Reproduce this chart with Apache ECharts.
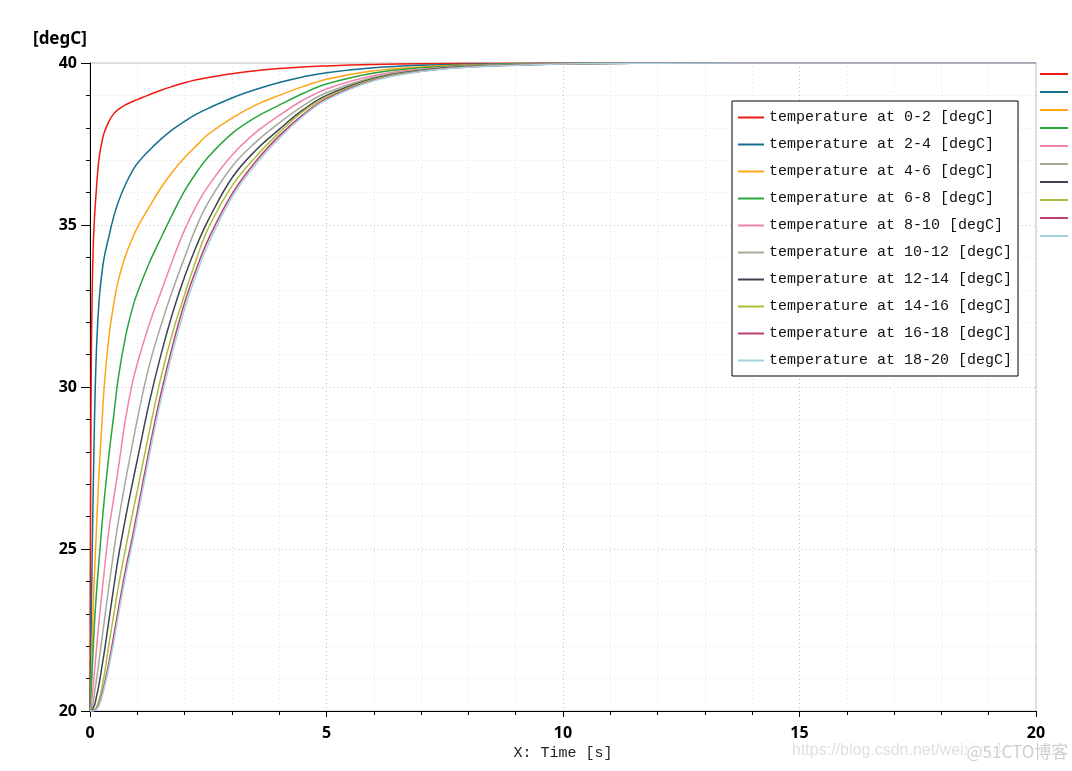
<!DOCTYPE html>
<html>
<head>
<meta charset="utf-8">
<script src="https://cdn.jsdelivr.net/npm/echarts@6/dist/echarts.min.js"></script>
<style>
html,body{margin:0;padding:0;background:#fff;}
#chart{width:1072px;height:771px;}
</style>
</head>
<body>
<div id="chart"></div>
<script>
const times = [0, 0.01, 0.02, 0.03, 0.05, 0.07, 0.1, 0.13, 0.16, 0.2, 0.25, 0.3, 0.4, 0.5, 0.6, 0.75, 0.9, 1.0, 1.25, 1.5, 1.75, 2.0, 2.25, 2.5, 3.0, 3.5, 4.0, 4.5, 5.0, 6.0, 7.0, 8.0, 10.0, 12.0, 15.0, 20.0];

const seriesNames = [
  'temperature at 0-2 [degC]', 'temperature at 2-4 [degC]', 'temperature at 4-6 [degC]',
  'temperature at 6-8 [degC]', 'temperature at 8-10 [degC]', 'temperature at 10-12 [degC]',
  'temperature at 12-14 [degC]', 'temperature at 14-16 [degC]', 'temperature at 16-18 [degC]',
  'temperature at 18-20 [degC]'
];

const temp0_2 = [20, 25, 29, 31.2, 33.2, 34.4, 35.35, 36.0, 36.6, 37.15, 37.55, 37.85, 38.2, 38.43, 38.57, 38.71, 38.81, 38.87, 39.02, 39.16, 39.28, 39.39, 39.48, 39.55, 39.67, 39.76, 39.83, 39.88, 39.91, 39.955, 39.978, 39.99, 39.998, 40, 40, 40];
const temp2_4 = [20, 20.8, 22, 23.2, 25.2, 27.0, 29.3, 30.9, 31.9, 32.8, 33.5, 34.0, 34.65, 35.25, 35.72, 36.25, 36.68, 36.9, 37.3, 37.65, 37.95, 38.2, 38.42, 38.6, 38.92, 39.18, 39.4, 39.57, 39.7, 39.85, 39.93, 39.965, 39.992, 40, 40, 40];
const temp4_6 = [20, 20.1, 20.5, 21.0, 22.2, 23.3, 24.4, 25.4, 26.4, 27.6, 28.8, 30.0, 31.55, 32.55, 33.3, 34.05, 34.6, 34.92, 35.55, 36.15, 36.65, 37.08, 37.45, 37.8, 38.3, 38.7, 39.0, 39.27, 39.5, 39.76, 39.88, 39.94, 39.986, 39.997, 40, 40];
const temp6_8 = [20, 20.1, 20.4, 20.8, 21.4, 22.0, 22.85, 23.5, 24.1, 24.8, 25.7, 26.5, 27.9, 29.1, 30.3, 31.55, 32.45, 32.9, 33.82, 34.6, 35.35, 36.05, 36.62, 37.1, 37.82, 38.32, 38.7, 39.06, 39.35, 39.69, 39.85, 39.926, 39.982, 39.996, 40, 40];
const temp8_10 = [20, 20.03, 20.1, 20.25, 20.5, 20.8, 21.3, 21.8, 22.3, 22.9, 23.6, 24.3, 25.6, 26.55, 27.5, 29.0, 30.15, 30.72, 31.92, 32.93, 33.93, 34.85, 35.6, 36.2, 37.15, 37.85, 38.38, 38.85, 39.2, 39.615, 39.81, 39.91, 39.978, 39.995, 40, 40];
const temp10_12 = [20, 20, 20.02, 20.05, 20.15, 20.3, 20.6, 20.9, 21.2, 21.65, 22.2, 22.75, 23.85, 24.9, 25.85, 27.1, 28.25, 29.0, 30.65, 31.9, 33.0, 34.0, 34.95, 35.7, 36.8, 37.55, 38.15, 38.68, 39.08, 39.56, 39.79, 39.9, 39.975, 39.994, 40, 40];
const temp12_14 = [20, 20, 20, 20.01, 20.04, 20.1, 20.2, 20.4, 20.6, 20.9, 21.35, 21.8, 22.8, 23.8, 24.75, 25.95, 27.05, 27.75, 29.5, 31.0, 32.3, 33.4, 34.35, 35.15, 36.45, 37.3, 37.95, 38.55, 39.0, 39.52, 39.77, 39.89, 39.973, 39.993, 40, 40];
const temp14_16 = [20, 20, 20, 20, 20.01, 20.02, 20.05, 20.1, 20.2, 20.4, 20.7, 21.1, 22.05, 22.95, 23.85, 25.0, 26.1, 26.8, 28.6, 30.3, 31.7, 32.85, 33.95, 34.9, 36.2, 37.1, 37.85, 38.5, 38.95, 39.5, 39.755, 39.88, 39.97, 39.993, 40, 40];
const temp16_18 = [20, 20, 20, 20, 20, 20.01, 20.03, 20.06, 20.12, 20.25, 20.5, 20.8, 21.5, 22.3, 23.15, 24.35, 25.4, 26.15, 28.05, 29.8, 31.3, 32.6, 33.65, 34.55, 35.95, 36.95, 37.75, 38.4, 38.9, 39.47, 39.744, 39.875, 39.97, 39.993, 40, 40];
const temp18_20 = [20, 20, 20, 20, 20, 20, 20.02, 20.04, 20.09, 20.2, 20.42, 20.7, 21.35, 22.1, 22.95, 24.15, 25.2, 25.95, 27.85, 29.6, 31.1, 32.4, 33.48, 34.4, 35.85, 36.86, 37.68, 38.35, 38.86, 39.45, 39.735, 39.87, 39.969, 39.993, 40, 40];

const xTicks = [0, 5, 10, 15, 20];
const yTicks = [20, 25, 30, 35, 40];

const allValues = [temp0_2, temp2_4, temp4_6, temp6_8, temp8_10, temp10_12, temp12_14, temp14_16, temp16_18, temp18_20];
const colors = ['#ee1a12', '#146e8e', '#ffa414', '#28a43c', '#f283a8', '#a6a898', '#3d4350', '#a6c03a', '#bb3f72', '#a3d2e0'];

const chart = echarts.init(document.getElementById('chart'), null, {renderer: 'canvas'});

const series = seriesNames.map((name, i) => ({
  name: name,
  type: 'line',
  data: times.map((t, k) => [t, allValues[i][k]]),
  showSymbol: false,
  symbol: 'none',
  smooth: 0.4,
  lineStyle: {width: 1.5, color: colors[i], join: 'round'},
  itemStyle: {color: colors[i]},
  clip: true,
  z: 3
}));

const axisFont = {fontFamily: '"Noto Sans", sans-serif', fontWeight: 'bold', fontSize: 16, color: '#000'};

chart.setOption({
  animation: false,
  backgroundColor: '#fff',
  grid: {left: 90, top: 63, right: 36, bottom: 60, show: true, borderColor: '#c4c4c4', borderWidth: 1, containLabel: false},
  xAxis: {
    type: 'value', min: xTicks[0], max: xTicks[xTicks.length - 1], interval: 5,
    name: 'X: Time [s]', nameLocation: 'middle', nameGap: 33,
    nameTextStyle: {fontFamily: '"Liberation Mono", monospace', fontSize: 15, color: '#222'},
    axisLine: {show: true, onZero: false, lineStyle: {color: '#000', width: 1}},
    axisTick: {show: true, inside: false, length: 6, lineStyle: {color: '#000'}},
    minorTick: {show: true, splitNumber: 5, length: 4, lineStyle: {color: '#000'}},
    axisLabel: Object.assign({margin: 14}, axisFont),
    splitLine: {show: true, lineStyle: {type: [1, 3], color: '#c2c2c2'}},
    minorSplitLine: {show: true, lineStyle: {type: [1, 3], color: '#e2e2e2'}}
  },
  yAxis: {
    type: 'value', min: yTicks[0], max: yTicks[yTicks.length - 1], interval: 5,
    axisLine: {show: true, onZero: false, lineStyle: {color: '#000', width: 1}},
    axisTick: {show: true, inside: false, length: 9, lineStyle: {color: '#000'}},
    minorTick: {show: true, splitNumber: 5, length: 4, lineStyle: {color: '#000'}},
    axisLabel: Object.assign({margin: 13}, axisFont),
    splitLine: {show: true, lineStyle: {type: [1, 3], color: '#c2c2c2'}},
    minorSplitLine: {show: true, lineStyle: {type: [1, 3], color: '#e2e2e2'}}
  },
  legend: [
    {
      orient: 'vertical', left: 732, top: 101,
      backgroundColor: '#fff', borderColor: '#000', borderWidth: 1,
      padding: [9, 6, 8, 6], itemGap: 12,
      icon: 'rect', itemWidth: 26, itemHeight: 2,
      selectedMode: false,
      textStyle: {fontFamily: '"Liberation Mono", monospace', fontSize: 15, lineHeight: 15, color: '#111', padding: [0, 0, 0, 0]},
      data: seriesNames, z: 10
    },
    {
      orient: 'vertical', left: 1040, top: 69,
      padding: 0, itemGap: 8,
      icon: 'rect', itemWidth: 28, itemHeight: 2,
      selectedMode: false,
      formatter: function () { return ' '; },
      textStyle: {fontSize: 10, lineHeight: 10, color: '#fff'},
      data: seriesNames, z: 10
    }
  ],
  graphic: [
    {type: 'text', left: 33, top: 31, style: {text: '[degC]', font: 'bold 17px "Noto Sans", sans-serif', fill: '#000'}},
    {type: 'text', left: 792, top: 743, style: {text: 'https://blog.csdn.net/weixin_4', font: '16px "Liberation Sans", Arial, sans-serif', fill: '#e0e0e0'}, z: 20},
    {type: 'text', left: 965, top: 742, style: {text: '@51CTO博客', font: '17px "Noto Sans CJK SC", sans-serif', fill: '#cfcfcf', stroke: '#fff', lineWidth: 3}, z: 21}
  ],
  color: colors,
  series: series
});
</script>
</body>
</html>
